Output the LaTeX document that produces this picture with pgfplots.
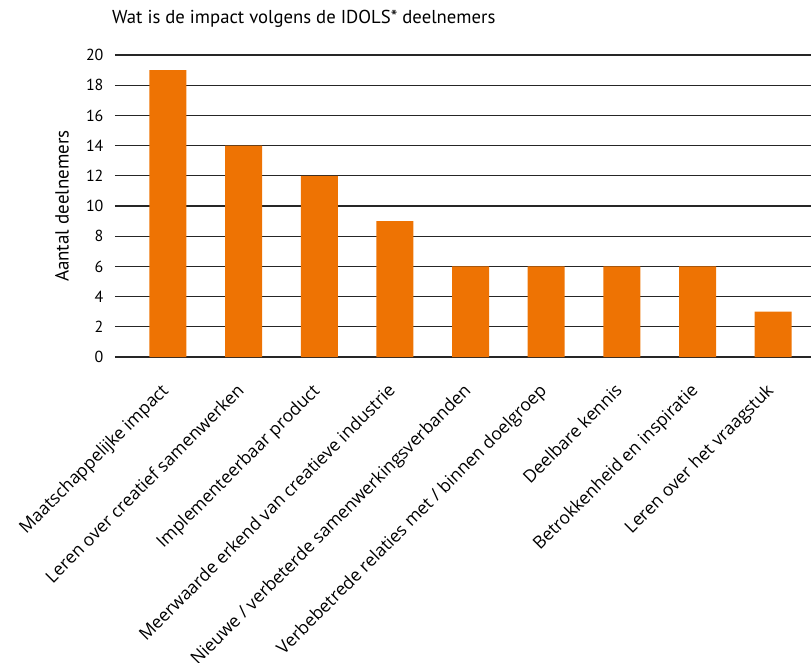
\documentclass[border=0pt]{standalone}
\usepackage{pgfplots}
\pgfplotsset{compat=1.18}
\usepackage{fontspec}
\setmainfont{Open Sans}
\newfontfamily\titlefont{PT Sans}
\definecolor{barorange}{RGB}{238,115,3}
\begin{document}
\begin{tikzpicture}
\begin{axis}[
  at={(0,0)}, anchor=south west,
  scale only axis,
  width=696pt, height=302pt,
  xmin=-0.7, xmax=8.5,
  ymin=0, ymax=20,
  ytick={0,2,...,20},
  xtick={0,...,8},
  xticklabels={Maatschappelijke impact,Leren over creatief samenwerken,Implementeerbaar product,Meerwaarde erkend van creatieve industrie,Nieuwe / verbeterde samenwerkingsverbanden,Verbebetrede relaties met / binnen doelgroep,Deelbare kennis,Betrokkenheid en inspiratie,Leren over het vraagstuk},
  xticklabel style={rotate=45, anchor=north east, font=\fontsize{17.5}{19}\selectfont, inner sep=0pt, xshift=-23.5pt, yshift=-12pt},
  yticklabel style={font=\titlefont\fontsize{16}{18}\selectfont, xshift=-8pt},
  /pgf/number format/assume math mode=true,
  axis line style={draw=none},
  major tick length=0pt,
  ymajorgrids,
  grid style={black!85, line width=1.2pt},
  clip=false,
]
\addplot[ybar, bar width=37pt, fill=barorange, draw=none] coordinates {
(0,19) (1,14) (2,12) (3,9) (4,6) (5,6) (6,6) (7,6) (8,3)};
\end{axis}
\node[anchor=base west, inner sep=0pt, font=\titlefont\fontsize{18.7}{20}\selectfont] at (-3pt,333pt) {Wat is de impact volgens de IDOLS* deelnemers};
\node[rotate=90, font=\titlefont\fontsize{19}{21}\selectfont] at (-53pt,151pt) {Aantal deelnemers};
\pgfresetboundingbox
\path (-115pt,-305pt) rectangle (696pt,357pt);
\end{tikzpicture}
\end{document}
